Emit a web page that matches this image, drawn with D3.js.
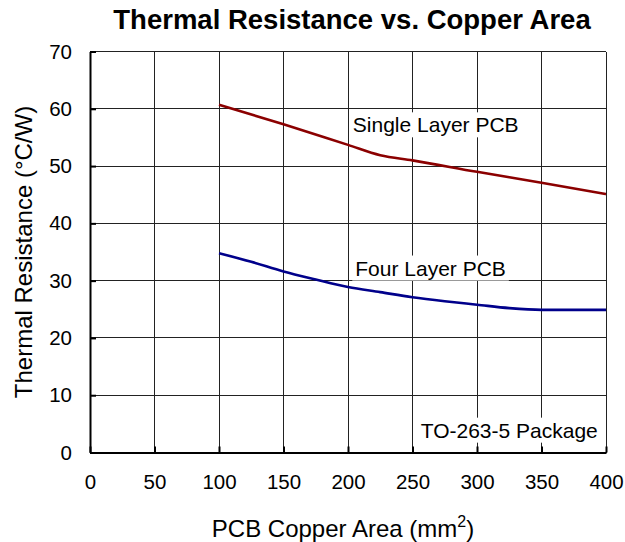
<!DOCTYPE html>
<html><head><meta charset="utf-8">
<script src="https://cdn.jsdelivr.net/npm/d3@7"></script>
<style>
body{margin:0;background:#fff;}
text{font-family:Arial,"Liberation Sans",sans-serif;fill:#000;}
</style></head>
<body><svg id="c" width="625" height="542"></svg>
<script>
const xTicks = [0,50,100,150,200,250,300,350,400];
const yTicks = [0,10,20,30,40,50,60,70];
const singleX = [100,150,200,225,250,300,350,400];
const singleY = [60.7,57.3,53.7,51.9,51.0,49.0,47.1,45.1];
const fourX = [100,125,150,175,200,225,250,275,300,325,350,375,400];
const fourY = [34.8,33.3,31.6,30.2,28.9,28.0,27.1,26.4,25.8,25.2,24.9,24.9,24.9];
const titleText = "Thermal Resistance vs. Copper Area";
const xLabel = "PCB Copper Area (mm";
const yLabel = "Thermal Resistance (°C/W)";
const notes = [
  {text:"Single Layer PCB", x:268, y:57.2},
  {text:"Four Layer PCB", x:264, y:32.2},
  {text:"TO-263-5 Package", x:325, y:3.9}
];

const svg = d3.select("#c");
const x = d3.scaleLinear().domain([0,400]).range([90,606]);
const y = d3.scaleLinear().domain([0,70]).range([452.5,51.5]);

// grid
const g = svg.append("g");
g.selectAll(".vx").data(xTicks).join("line")
  .attr("x1",d=>x(d)).attr("x2",d=>x(d)).attr("y1",y(0)).attr("y2",y(70))
  .attr("stroke","#222").attr("stroke-width",1).attr("shape-rendering","crispEdges");
g.selectAll(".hy").data(yTicks).join("line")
  .attr("x1",x(0)).attr("x2",x(400)).attr("y1",d=>y(d)).attr("y2",d=>y(d))
  .attr("stroke","#222").attr("stroke-width",1).attr("shape-rendering","crispEdges");

// axes with inward ticks
const ax = svg.append("g").attr("transform",`translate(0,${y(0)})`)
  .call(d3.axisBottom(x).tickValues(xTicks).tickSizeInner(-6).tickSizeOuter(0).tickPadding(22));
const ay = svg.append("g").attr("transform",`translate(${x(0)},0)`)
  .call(d3.axisLeft(y).tickValues(yTicks).tickSizeInner(-6).tickSizeOuter(0).tickPadding(18));
[ax,ay].forEach(a=>{
  a.select(".domain").attr("stroke","#000").attr("stroke-width",2);
  a.selectAll(".tick line").attr("stroke","#000").attr("stroke-width",2);
  a.selectAll("text").style("font-size","20.5px").attr("font-family",null);
});
ax.selectAll(".tick text").attr("dy","0.71em");

// note boxes
const notesG = svg.append("g");
notes.forEach(n=>{
  const t = notesG.append("text").text(n.text)
    .attr("x",x(n.x)).attr("y",y(n.y))
    .attr("text-anchor","middle").attr("dominant-baseline","central")
    .style("font-size","21px");
  const bb = t.node().getBBox();
  notesG.insert("rect","text").attr("x",bb.x-3).attr("y",bb.y-1)
    .attr("width",bb.width+6).attr("height",bb.height+2).attr("fill","#fff");
});

// lines
const line = d3.line().x(d=>x(d[0])).y(d=>y(d[1])).curve(d3.curveMonotoneX);
svg.append("path").datum(singleX.map((v,i)=>[v,singleY[i]]))
  .attr("d",line).attr("fill","none").attr("stroke","#8b0000").attr("stroke-width",2.6);
svg.append("path").datum(fourX.map((v,i)=>[v,fourY[i]]))
  .attr("d",line).attr("fill","none").attr("stroke","#00008b").attr("stroke-width",2.6);

// title & labels
svg.append("text").text(titleText).attr("x",352).attr("y",29)
  .attr("text-anchor","middle").style("font-size","27.5px").style("font-weight","bold");
const xl = svg.append("text").attr("x",343).attr("y",537).attr("text-anchor","middle").style("font-size","24px");
xl.append("tspan").text(xLabel);
xl.append("tspan").text("2").attr("dy",-10).style("font-size","16px");
xl.append("tspan").text(")").attr("dy",10);
svg.append("text").text(yLabel).attr("transform","translate(32,252) rotate(-90)")
  .attr("text-anchor","middle").style("font-size","24px");
</script></body></html>
